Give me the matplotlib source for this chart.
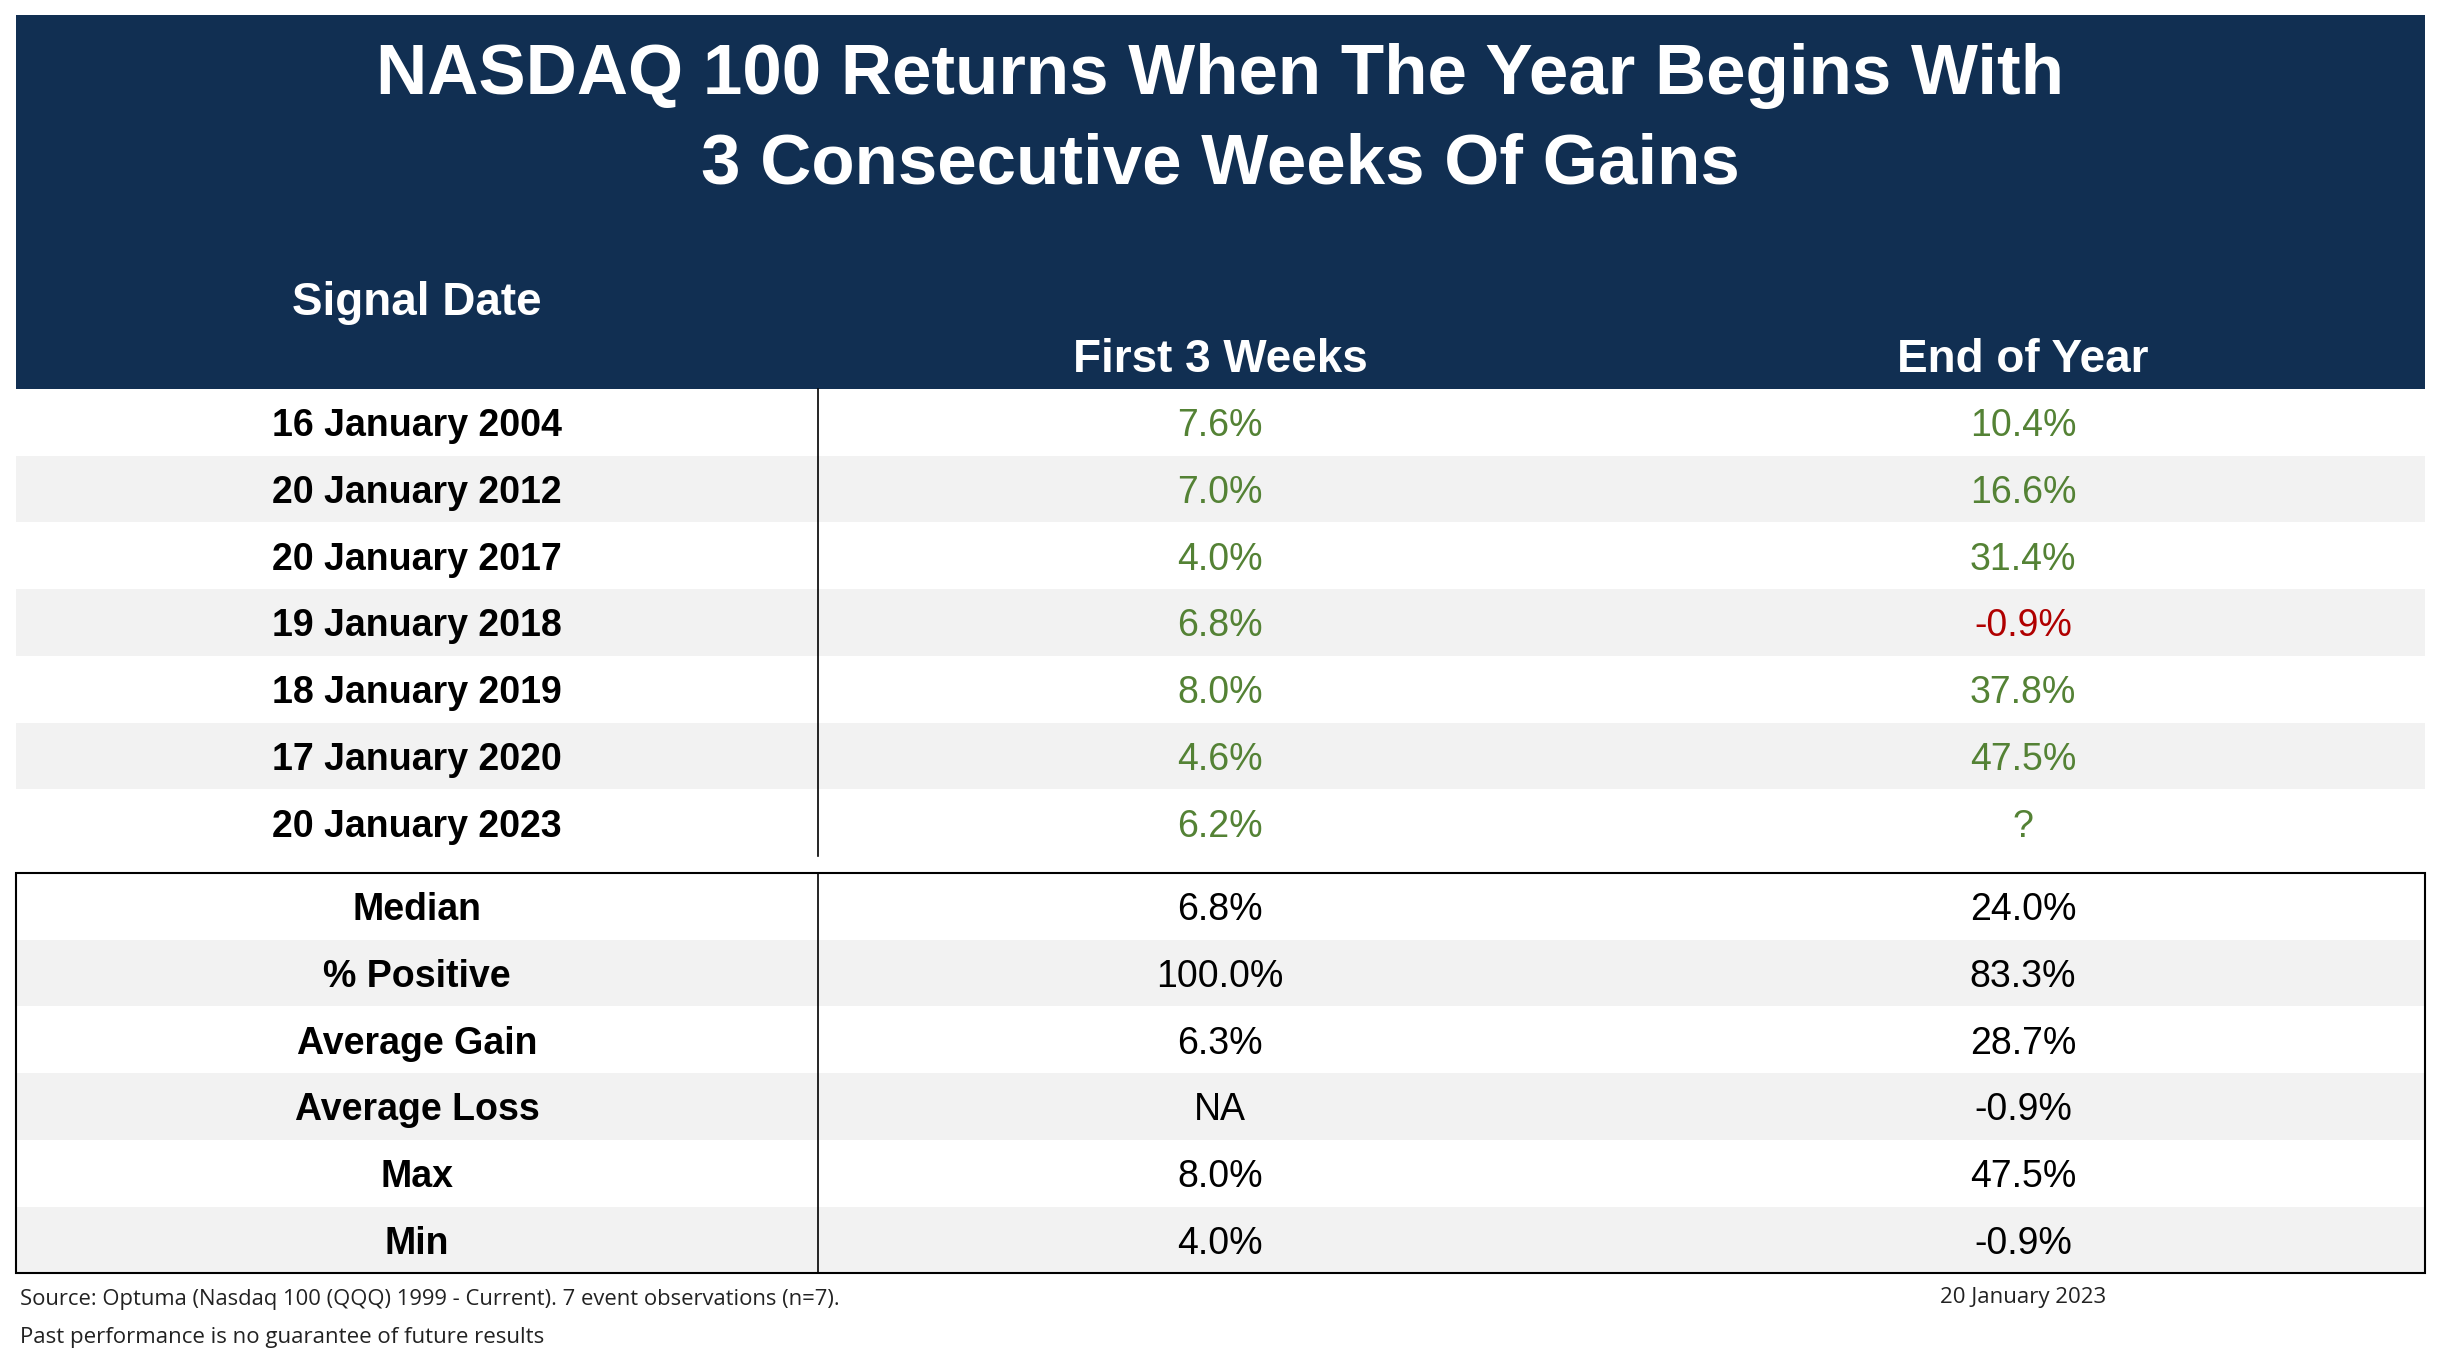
import matplotlib.pyplot as plt
from matplotlib.patches import Rectangle

# table contents
title_lines = ["NASDAQ 100 Returns When The Year Begins With",
               "3 Consecutive Weeks Of Gains"]
col_headers = ["Signal Date", "First 3 Weeks", "End of Year"]
signal_dates = ["16 January 2004", "20 January 2012", "20 January 2017",
                "19 January 2018", "18 January 2019", "17 January 2020",
                "20 January 2023"]
first_3_weeks = ["7.6%", "7.0%", "4.0%", "6.8%", "8.0%", "4.6%", "6.2%"]
end_of_year = ["10.4%", "16.6%", "31.4%", "-0.9%", "37.8%", "47.5%", "?"]
stat_labels = ["Median", "% Positive", "Average Gain", "Average Loss", "Max", "Min"]
stat_first = ["6.8%", "100.0%", "6.3%", "NA", "8.0%", "4.0%"]
stat_end = ["24.0%", "83.3%", "28.7%", "-0.9%", "47.5%", "-0.9%"]
source_note = "Source: Optuma (Nasdaq 100 (QQQ) 1999 - Current). 7 event observations (n=7)."
disclaimer = "Past performance is no guarantee of future results"
stamp = "20 January 2023"

NAVY = "#112f52"
GREEN = "#548235"
RED = "#b00000"
GREY = "#f2f2f2"

W, H = 2441, 1353
fig = plt.figure(figsize=(W / 100, H / 100), dpi=100)
ax = fig.add_axes([0, 0, 1, 1])
ax.set_xlim(0, W)
ax.set_ylim(H, 0)
ax.axis("off")

left, right = 16, 2425
div_x = 818
cx = [417, 1220, 2023]
row_h = 66.7
font = "Liberation Sans"

# header block
ax.add_patch(Rectangle((left, 15), right - left, 389 - 15, color=NAVY, lw=0))
for line, yb in zip(title_lines, [94, 183]):
    ax.text(W / 2, yb, line, color="white", fontsize=51, fontweight="bold",
            family=font, ha="center", va="baseline")
ax.text(cx[0], 315, col_headers[0], color="white", fontsize=33, fontweight="bold",
        family=font, ha="center", va="baseline")
for x, h in zip(cx[1:], col_headers[1:]):
    ax.text(x, 372, h, color="white", fontsize=33, fontweight="bold",
            family=font, ha="center", va="baseline")

# signal rows
top = 389
for i, (d, a, b) in enumerate(zip(signal_dates, first_3_weeks, end_of_year)):
    y0 = top + i * row_h
    if i % 2 == 1:
        ax.add_patch(Rectangle((left, y0), right - left, row_h, color=GREY, lw=0))
    yb = y0 + row_h / 2 + 14
    ax.text(cx[0], yb, d, fontsize=27, fontweight="bold", family=font,
            ha="center", va="baseline", color="black")
    ax.text(cx[1], yb, a, fontsize=27, family=font, ha="center", va="baseline",
            color=RED if a.startswith("-") else GREEN)
    ax.text(cx[2], yb, b, fontsize=27, family=font, ha="center", va="baseline",
            color=RED if b.startswith("-") else GREEN)
ax.plot([div_x, div_x], [top, top + 7 * row_h], color="black", lw=1.2)

# stats block
stop = 873
for i, (lab, a, b) in enumerate(zip(stat_labels, stat_first, stat_end)):
    y0 = stop + i * row_h
    if i % 2 == 1:
        ax.add_patch(Rectangle((left, y0), right - left, row_h, color=GREY, lw=0))
    yb = y0 + row_h / 2 + 14
    ax.text(cx[0], yb, lab, fontsize=27, fontweight="bold", family=font,
            ha="center", va="baseline", color="black")
    ax.text(cx[1], yb, a, fontsize=27, family=font, ha="center", va="baseline", color="black")
    ax.text(cx[2], yb, b, fontsize=27, family=font, ha="center", va="baseline", color="black")
sbot = stop + 6 * row_h
ax.add_patch(Rectangle((left, stop), right - left, sbot - stop, fill=False,
                       edgecolor="black", lw=1.5))
ax.plot([div_x, div_x], [stop, sbot], color="black", lw=1.2)

# footnotes
ax.text(20, 1305, source_note, fontsize=15.8, family="Open Sans", ha="left",
        va="baseline", color="#222222")
ax.text(20, 1343, disclaimer, fontsize=16, family="Open Sans", ha="left",
        va="baseline", color="#222222")
ax.text(cx[2], 1303, stamp, fontsize=16, family="Open Sans", ha="center",
        va="baseline", color="#222222")

fig.savefig("out.png", dpi=100, facecolor="white")
